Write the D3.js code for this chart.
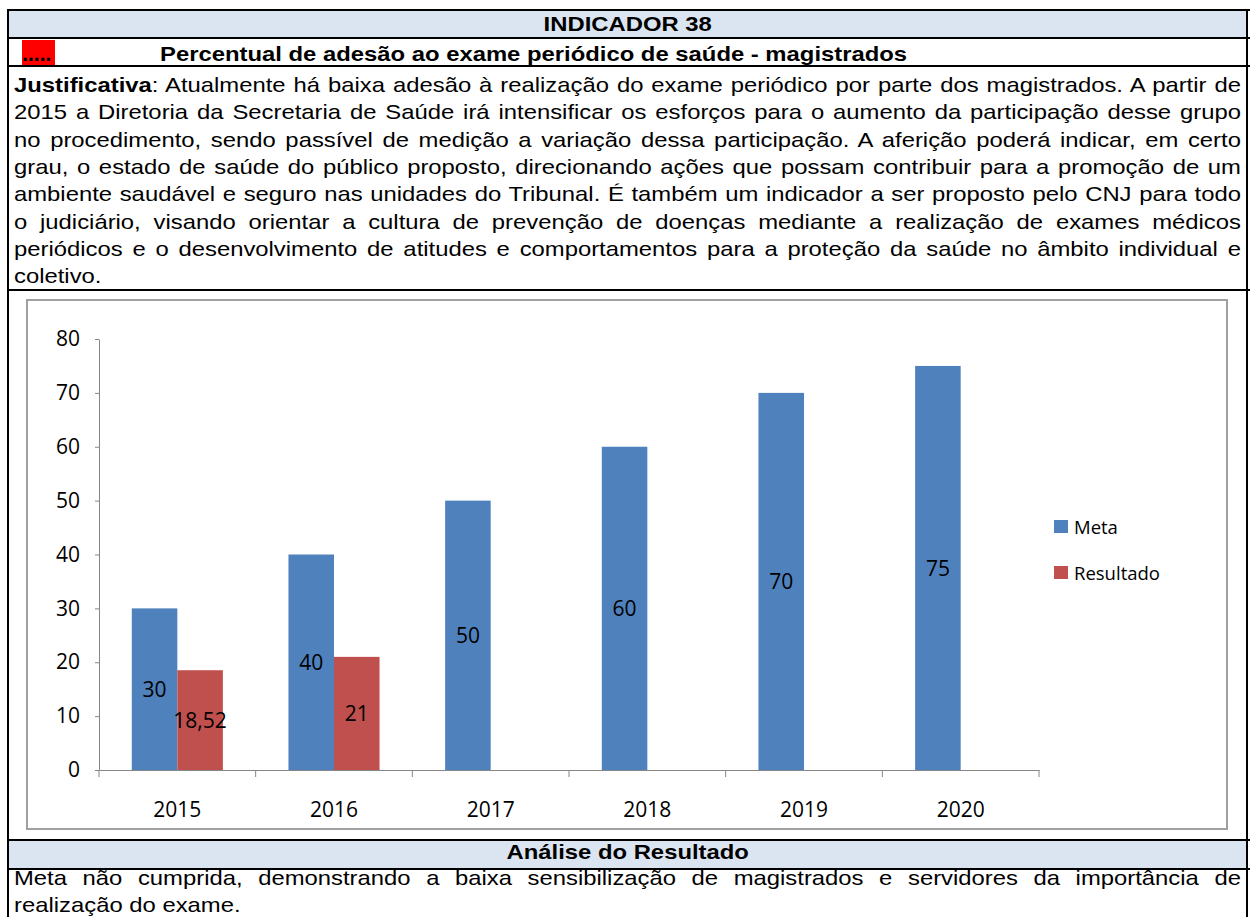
<!DOCTYPE html>
<html lang="pt">
<head>
<meta charset="utf-8">
<title>Indicador 38</title>
<script src="https://cdn.jsdelivr.net/npm/d3@7"></script>
<style>
	body { margin: 0; background: #fff; }
	#page {
		position: relative; width: 1250px; height: 917px; overflow: hidden;
		font-family: "Liberation Sans", Arial, sans-serif; font-size: 21px; color: #000;
	}
	.box { position: absolute; }
	.wide { transform-origin: 0 0; transform: scaleX(1.135); white-space: nowrap; line-height: 23px; }
	.line { position: absolute; left: 14px; width: 1081px; text-align: justify; text-align-last: justify; }
	.line.last { text-align-last: left; }
	.head { position: absolute; left: 8px; width: 1092px; text-align: center; font-weight: bold; }
	svg { position: absolute; left: 0; top: 0; }
	svg text { font-family: "Open Sans", sans-serif; }
</style>
</head>
<body>
<div id="page"></div>
<script>
	// chart data
	var years = ["2015", "2016", "2017", "2018", "2019", "2020"];
	var meta = [30, 40, 50, 60, 70, 75];
	var resultado = [18.52, 21, null, null, null, null];
	var seriesNames = ["Meta", "Resultado"];
	var yTicks = [0, 10, 20, 30, 40, 50, 60, 70, 80];

	// table texts
	var justLines = [
		"Atualmente há baixa adesão à realização do exame periódico por parte dos magistrados. A partir de",
		"2015 a Diretoria da Secretaria de Saúde irá intensificar os esforços para o aumento da participação desse grupo",
		"no procedimento, sendo passível de medição a variação dessa participação. A aferição poderá indicar, em certo",
		"grau, o estado de saúde do público proposto, direcionando ações que possam contribuir para a promoção de um",
		"ambiente saudável e seguro nas unidades do Tribunal. É também um indicador a ser proposto pelo CNJ para todo",
		"o judiciário, visando orientar a cultura de prevenção de doenças mediante a realização de exames médicos",
		"periódicos e o desenvolvimento de atitudes e comportamentos para a proteção da saúde no âmbito individual e",
		"coletivo."
	];
	var analiseLines = [
		"Meta não cumprida, demonstrando a baixa sensibilização de magistrados e servidores da importância de",
		"realização do exame."
	];

	var colors = { Meta: "#4f81bd", Resultado: "#c0504d" };

	var page = d3.select("#page");

	//Backgrounds of the header rows
	page.append("div").attr("class", "box")
		.style("left", "8px").style("top", "10px").style("width", "1240px").style("height", "28px")
		.style("background", "#dbe5f1");
	page.append("div").attr("class", "box")
		.style("left", "8px").style("top", "840px").style("width", "1240px").style("height", "29px")
		.style("background", "#dbe5f1");

	//Red marker
	page.append("div").attr("class", "box")
		.style("left", "22px").style("top", "40px").style("width", "33px").style("height", "26px")
		.style("background", "#ff0000");
	page.append("div").attr("class", "box")
		.style("left", "22px").style("top", "42px").style("font-weight", "bold").style("font-size", "22px")
		.style("line-height", "23px").style("letter-spacing", "-0.3px")
		.text(".....");

	//Table lines
	[10, 38, 66, 290, 840, 869].forEach(function(y) {
		page.append("div").attr("class", "box")
			.style("left", "7px").style("top", (y - 1) + "px").style("width", "1243px").style("height", "2px")
			.style("background", "#000");
	});
	[8, 1247].forEach(function(x) {
		page.append("div").attr("class", "box")
			.style("left", (x - 1) + "px").style("top", "9px").style("width", "2px").style("height", "910px")
			.style("background", "#000");
	});

	//Header texts
	page.append("div").attr("class", "head wide").style("top", "12px").text("INDICADOR 38");
	page.append("div").attr("class", "box wide")
		.style("left", "160px").style("top", "42px").style("font-weight", "bold")
		.text("Percentual de adesão ao exame periódico de saúde - magistrados");
	page.append("div").attr("class", "head wide").style("top", "840px").text("Análise do Resultado");

	//Justified paragraph, one div per line
	page.selectAll("div.just")
		.data(justLines)
		.enter()
		.append("div")
		.attr("class", function(d, i) { return "line wide just" + (i == justLines.length - 1 ? " last" : ""); })
		.style("top", function(d, i) { return (73 + i * 27.3) + "px"; })
		.each(function(d, i) {
			var el = d3.select(this);
			if (i == 0) {
				el.append("b").text("Justificativa");
				el.append("span").text(": " + d);
			} else {
				el.text(d);
			}
		});

	page.selectAll("div.anal")
		.data(analiseLines)
		.enter()
		.append("div")
		.attr("class", function(d, i) { return "line wide anal" + (i == analiseLines.length - 1 ? " last" : ""); })
		.style("top", function(d, i) { return (866 + i * 27) + "px"; })
		.text(function(d) { return d; });

	//Chart
	var svg = page.append("svg").attr("width", 1250).attr("height", 917);

	svg.append("rect")
		.attr("x", 27).attr("y", 300).attr("width", 1200).attr("height", 529)
		.attr("fill", "#fff").attr("stroke", "#a0a0a0").attr("stroke-width", 2);

	var x = d3.scaleBand().domain(years).range([99, 1039]).paddingInner(0).paddingOuter(0);
	var xSub = d3.scaleBand().domain(seriesNames).range([0, x.bandwidth()]).paddingInner(0).paddingOuter(0.72);
	var y = d3.scaleLinear().domain([0, 80]).range([770, 339]);

	var rows = years.map(function(yr, i) {
		return [
			{ year: yr, series: "Meta", value: meta[i] },
			{ year: yr, series: "Resultado", value: resultado[i] }
		];
	}).flat().filter(function(d) { return d.value != null; });

	var fmt = function(v) { return String(v).replace(".", ","); };

	svg.selectAll("rect.bar")
		.data(rows)
		.enter()
		.append("rect")
		.attr("class", "bar")
		.attr("x", function(d) { return x(d.year) + xSub(d.series); })
		.attr("y", function(d) { return y(d.value); })
		.attr("width", xSub.bandwidth())
		.attr("height", function(d) { return y(0) - y(d.value); })
		.attr("fill", function(d) { return colors[d.series]; });

	svg.selectAll("text.lbl")
		.data(rows)
		.enter()
		.append("text")
		.attr("class", "lbl")
		.attr("x", function(d) { return x(d.year) + xSub(d.series) + xSub.bandwidth() / 2; })
		.attr("y", function(d) { return (y(d.value) + y(0)) / 2; })
		.attr("dy", "0.38em")
		.attr("text-anchor", "middle")
		.attr("font-size", "21px")
		.attr("fill", "#000")
		.text(function(d) { return fmt(d.value); });

	//Y axis
	var yAxis = svg.append("g")
		.attr("transform", "translate(99,0)")
		.call(d3.axisLeft(y).tickValues(yTicks).tickSize(4).tickPadding(15).tickSizeOuter(0));
	yAxis.selectAll("text").attr("font-size", "21px").attr("fill", "#000").attr("font-family", "Open Sans");

	//X axis
	var xAxis = svg.append("g")
		.attr("transform", "translate(0,770)")
		.call(d3.axisBottom(x).tickSize(0).tickPadding(32).tickSizeOuter(0));
	xAxis.selectAll("text").attr("font-size", "21px").attr("fill", "#000").attr("font-family", "Open Sans");

	svg.selectAll("line.xtick")
		.data(years.map(function(d) { return x(d); }).concat([x.range()[1]]))
		.enter()
		.append("line")
		.attr("class", "xtick")
		.attr("x1", function(d) { return d; }).attr("x2", function(d) { return d; })
		.attr("y1", 770).attr("y2", 777)
		.attr("stroke", "#868686");

	svg.selectAll(".domain, .tick line").attr("stroke", "#868686");

	//Legend
	var legend = svg.selectAll("g.leg")
		.data(seriesNames)
		.enter()
		.append("g")
		.attr("class", "leg")
		.attr("transform", function(d, i) { return "translate(1054," + (520 + i * 46) + ")"; });
	legend.append("rect")
		.attr("width", 14).attr("height", 13)
		.attr("fill", function(d) { return colors[d]; });
	legend.append("text")
		.attr("x", 20).attr("y", 14)
		.attr("font-size", "18.5px")
		.text(function(d) { return d; });
</script>
</body>
</html>
